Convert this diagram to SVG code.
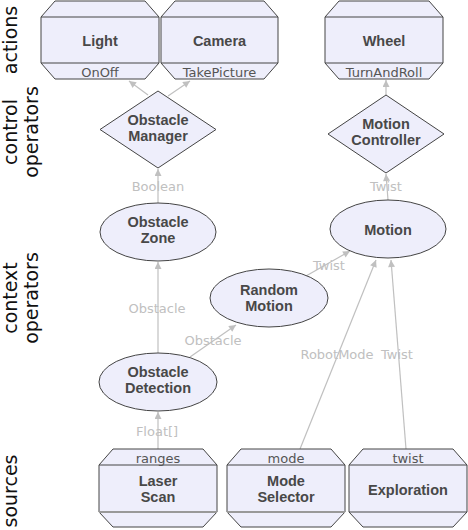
<svg xmlns="http://www.w3.org/2000/svg" width="468" height="530" viewBox="0 0 468 530">
<defs>
<style>
.node{fill:#eeeefb;stroke:#444;stroke-width:1}
.sep{stroke:#444;stroke-width:1;fill:none}
.sepb{stroke:#999;stroke-width:2;fill:none}
.nl{font-family:"Liberation Sans",Arial,sans-serif;font-weight:bold;font-size:14.5px;fill:#484848;text-anchor:middle}
.pl{font-family:"DejaVu Sans",sans-serif;font-size:13px;fill:#555;text-anchor:middle}
.el{font-family:"DejaVu Sans",sans-serif;font-size:13px;fill:#c0c0c0;text-anchor:middle}
.lane{font-family:"DejaVu Sans",sans-serif;font-size:19px;fill:#111;text-anchor:middle}
.edge{stroke:#c0c0c0;stroke-width:1.2;fill:none;marker-end:url(#ah)}
</style>
<marker id="ah" viewBox="0 0 10 10" refX="10" refY="5" markerWidth="9" markerHeight="7" markerUnits="userSpaceOnUse" orient="auto">
<path d="M0,0 L10,5 L0,10 z" fill="#c0c0c0"/>
</marker>
</defs>
<rect width="468" height="530" fill="#fff"/>

<g id="lanes">
<text class="lane" transform="translate(17,40) rotate(-90)">actions</text>
<text class="lane" transform="translate(17,132) rotate(-90)">control</text>
<text class="lane" transform="translate(38,132) rotate(-90)">operators</text>
<text class="lane" transform="translate(17,298) rotate(-90)">context</text>
<text class="lane" transform="translate(38,298) rotate(-90)">operators</text>
<text class="lane" transform="translate(17,491) rotate(-90)">sources</text>
</g>

<g id="connectors">
<line class="edge" x1="148" y1="95" x2="129" y2="81"/>
<line class="edge" x1="168" y1="96" x2="190" y2="81"/>
<line class="edge" x1="386" y1="95" x2="386" y2="80"/>
<line class="edge" x1="158" y1="203" x2="158" y2="169"/>
<line class="edge" x1="388" y1="200" x2="386" y2="174"/>
<line class="edge" x1="158" y1="353" x2="158" y2="262"/>
<line class="edge" x1="190" y1="357" x2="236" y2="325"/>
<line class="edge" x1="306" y1="276" x2="350" y2="251"/>
<line class="edge" x1="158" y1="449" x2="158" y2="412"/>
<line class="edge" x1="300" y1="449" x2="376" y2="260"/>
<line class="edge" x1="406" y1="449" x2="391" y2="260"/>
<text class="el" x="158" y="191">Boolean</text>
<text class="el" x="386" y="191">Twist</text>
<text class="el" x="157" y="313">Obstacle</text>
<text class="el" x="213" y="345">Obstacle</text>
<text class="el" x="329" y="270">Twist</text>
<text class="el" x="337" y="359">RobotMode</text>
<text class="el" x="397" y="359">Twist</text>
<text class="el" x="157" y="436">Float[]</text>
</g>

<g id="light">
<path class="node" d="M55,1 H145 L159,17 V63 L145,79 H55 L41,63 V17 Z"/>
<path class="sep" d="M41,17 H159 M41,63 H159"/>
<text class="nl" x="100" y="46">Light</text>
<text class="pl" x="100" y="77">OnOff</text>
</g>
<g id="camera">
<path class="node" d="M175,1 H264 L278,17 V63 L264,79 H175 L161,63 V17 Z"/>
<path class="sep" d="M161,17 H278 M161,63 H278"/>
<text class="nl" x="219.5" y="46">Camera</text>
<text class="pl" x="219.5" y="77">TakePicture</text>
</g>
<g id="wheel">
<path class="node" d="M339,1 H429 L443,17 V63 L429,79 H339 L325,63 V17 Z"/>
<path class="sep" d="M325,17 H443 M325,63 H443"/>
<text class="nl" x="384" y="46">Wheel</text>
<text class="pl" x="384" y="77">TurnAndRoll</text>
</g>

<g id="obstacle-manager">
<path class="node" d="M158,91 L216,129.5 L158,168 L100,129.5 Z"/>
<text class="nl" x="158" y="125">Obstacle</text>
<text class="nl" x="158" y="141">Manager</text>
</g>
<g id="motion-controller">
<path class="node" d="M386,95 L444,134 L386,173 L328,134 Z"/>
<text class="nl" x="386" y="129">Motion</text>
<text class="nl" x="386" y="145">Controller</text>
</g>

<g id="obstacle-zone">
<ellipse class="node" cx="158" cy="232" rx="58" ry="29"/>
<text class="nl" x="158" y="227">Obstacle</text>
<text class="nl" x="158" y="243">Zone</text>
</g>
<g id="motion">
<ellipse class="node" cx="388" cy="229" rx="58" ry="29"/>
<text class="nl" x="388" y="235">Motion</text>
</g>
<g id="random-motion">
<ellipse class="node" cx="269" cy="298" rx="59" ry="29"/>
<text class="nl" x="269" y="295">Random</text>
<text class="nl" x="269" y="311">Motion</text>
</g>
<g id="obstacle-detection">
<ellipse class="node" cx="158" cy="382" rx="59" ry="29"/>
<text class="nl" x="158" y="377">Obstacle</text>
<text class="nl" x="158" y="393">Detection</text>
</g>

<g id="laser-scan">
<path class="node" d="M113,449 H203 L217,465 V512 L203,527 H113 L99,512 V465 Z"/>
<path class="sep" d="M99,465 H217"/>
<path class="sepb" d="M99,512 H217"/>
<text class="pl" x="158" y="463">ranges</text>
<text class="nl" x="158" y="486">Laser</text>
<text class="nl" x="158" y="502">Scan</text>
</g>
<g id="mode-selector">
<path class="node" d="M241,449 H331 L345,465 V512 L331,527 H241 L227,512 V465 Z"/>
<path class="sep" d="M227,465 H345"/>
<path class="sepb" d="M227,512 H345"/>
<text class="pl" x="286" y="463">mode</text>
<text class="nl" x="286" y="486">Mode</text>
<text class="nl" x="286" y="502">Selector</text>
</g>
<g id="exploration">
<path class="node" d="M363,449 H453 L467,465 V512 L453,527 H363 L349,512 V465 Z"/>
<path class="sep" d="M349,465 H467 M349,512 H467"/>
<text class="pl" x="408" y="463">twist</text>
<text class="nl" x="408" y="495">Exploration</text>
</g>
</svg>
